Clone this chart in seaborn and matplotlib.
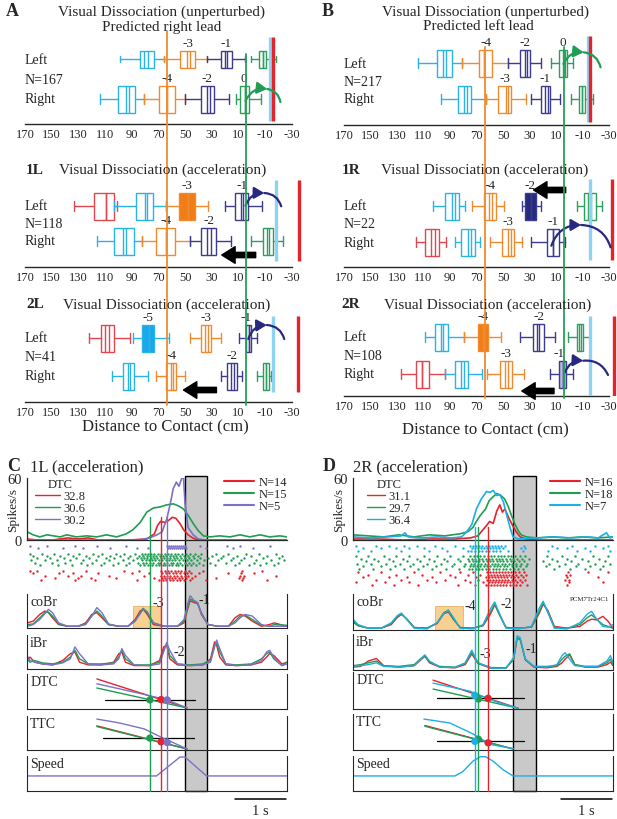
import numpy as np
import pandas as pd
import seaborn as sns
import matplotlib
matplotlib.use('Agg')
import matplotlib.pyplot as plt
import matplotlib.transforms as mtransforms
from matplotlib.lines import Line2D
from matplotlib.patches import Rectangle, FancyArrowPatch

# ---------- box panels: distance to contact (cm) of each paw placement ----------
# one box = [whisker lo, q1, median, second line, q3, whisker hi]
A_LEFT_STRIDES = [-5, -3, -1, 1]
A_LEFT_DTC = [[66, 73, 78, 80.5, 84, 99], [33.5, 42.5, 46.5, 48.5, 54, 66],
              [5.5, 15, 18.5, 20.5, 23.5, 33.5], [-18, -10.5, -8, -8, -5.5, 0.5]]
A_RIGHT_STRIDES = [-6, -4, -2, 0]
A_RIGHT_DTC = [[80.5, 87.5, 92, 94, 100.5, 113.5], [50.5, 57.5, 63.5, 63.5, 69.5, 80.5],
               [17, 28.5, 31.5, 34, 38.5, 50.5], [-6.5, 2.5, 5.5, 5.5, 9, 12]]

B_LEFT_STRIDES = [-6, -4, -2, 0]
B_LEFT_DTC = [[81, 88.5, 93, 95.5, 99.5, 114], [46, 58, 64.5, 64.5, 68, 81],
              [21.5, 30, 32, 33.5, 37.5, 46], [-3, 2, 3, 4.5, 7.5, 14]]
B_RIGHT_STRIDES = [-5, -3, -1, 1]
B_RIGHT_DTC = [[63, 74, 77, 79.5, 84, 97], [32.5, 44, 46, 48, 53.5, 63],
               [7, 14.5, 16, 18, 21.5, 28.5], [-18, -12, -9.5, -9.5, -7.5, -1]]

L1_LEFT_STRIDES = [-7, -5, -3, -1]
L1_LEFT_DTC = [[101, 103.5, 109, 109, 118, 133], [64.5, 74, 78.5, 80, 87, 103.5],
               [33, 43, 48, 48, 55, 64.5], [-7.5, 3, 7, 8.5, 12.5, 20]]
L1_RIGHT_STRIDES = [-6, -4, -2, 0]
L1_RIGHT_DTC = [[82.5, 88.5, 94, 96.5, 103, 116], [46.5, 57.5, 64.5, 64.5, 71.5, 82.5],
                [15.5, 27, 31, 33.5, 38, 46.5], [-23, -15.5, -13, -11, -8, 0.5]]

L2_LEFT_STRIDES = [-7, -5, -3, -1]
L2_LEFT_DTC = [[91.5, 103, 107, 110, 113, 122], [62, 73, 77, 77, 82.5, 89],
               [23.5, 31, 33, 35, 38, 46.5], [-3.5, 1, 2.5, 2.5, 4.5, 9.5]]
L2_RIGHT_STRIDES = [-6, -4, -2, 0]
L2_RIGHT_DTC = [[77.5, 88, 91, 93, 96.5, 105], [50, 57, 59, 61, 64.5, 72],
                [7.5, 11, 13.5, 16, 19, 23.5], [-14, -12.5, -10.5, -10.5, -8.5, -4]]

R1_LEFT_STRIDES = [-6, -4, -2, 0]
R1_LEFT_DTC = [[79, 83.5, 86, 88.5, 94, 103], [49.5, 55.5, 58, 60.5, 64, 73.5],
               [21.5, 25, 29, 29, 33.5, 35.5], [-25, -20.5, -16.5, -14.5, -11, -6]]
R1_RIGHT_STRIDES = [-7, -5, -3, -1]
R1_RIGHT_DTC = [[93, 98.5, 101.5, 104, 108.5, 115.5], [67, 71, 74, 76.5, 82, 86.5],
                [36, 41.5, 44, 46, 50.5, 60], [3, 7.5, 12, 12, 17, 28.5]]

R2_LEFT_STRIDES = [-6, -4, -2, 0]
R2_LEFT_DTC = [[79.5, 91.5, 95, 97, 101, 109], [51.5, 61, 65, 65, 69, 79.5],
               [11, 19, 22.5, 24.5, 27, 37.5], [-15.5, -10.5, -9, -7.5, -5.5, 1]]
R2_RIGHT_STRIDES = [-7, -5, -3, -1]
R2_RIGHT_DTC = [[93.5, 106, 111, 111, 116, 127], [66, 76.5, 79.5, 82, 86, 93.5],
                [34.5, 43.5, 46.5, 48.5, 52, 62], [-2.5, 2.5, 5, 5, 7.5, 14.5]]

N_TRIALS = {'A': 167, 'B': 217, '1L': 118, '2L': 41, '1R': 22, '2R': 108}
LABELED = {'A': [-3, -1, -4, -2, 0], 'B': [-4, -2, 0, -3, -1], '1L': [-3, -1, -4, -2],
           '2L': [-5, -3, -1, -4, -2], '1R': [-4, -2, -3, -1], '2R': [-4, -2, -3, -1]}
PERTURBED = {'A': None, 'B': None, '1L': -3, '2L': -5, '1R': -2, '2R': -4}
CUE_BLUE = {'A': -13.5, 'B': -14, '1L': -18, '2L': -15.7, '1R': -15.6, '2R': -15.5}
CUE_RED = {'A': -16, 'B': -15.5, '1L': -35, '2L': -34.5, '1R': -32.5, '2R': -34}
LEFT_COL_LINES = [64, 4.5]    # orange, green reference DTC
RIGHT_COL_LINES = [63.5, 3.8]
TICKS_CM = [170, 150, 130, 110, 90, 70, 50, 30, 10, -10, -30]

# ---------- C: 1L (acceleration) ----------
C_RED_T = [0, 0.2, 0.5, 0.8, 1.0, 1.2, 1.4, 2.0, 2.35, 2.5, 2.56, 2.62, 2.7, 2.78, 2.85,
           2.92, 3.0, 3.07, 3.16, 3.25, 3.35, 5.1]
C_RED_RATE = [1, 0, 0, 2, 1, 2, 0, 0, 1, 6, 14, 18, 17, 19, 22, 21, 16, 10, 5, 2, 0, 0]
C_GREEN_T = [0, 0.12, 0.25, 0.39, 0.52, 0.65, 0.78, 0.97, 1.17, 1.37, 1.56, 1.76, 1.95,
             2.08, 2.22, 2.35, 2.48, 2.61, 2.74, 2.87, 2.97, 3.07, 3.16, 3.26, 3.36, 3.46,
             3.59, 3.78, 3.98, 4.18, 4.37, 4.57, 4.76, 4.96, 5.1]
C_GREEN_RATE = [8, 5, 3, 5, 4, 3, 5, 3, 4, 3, 5, 3, 6, 10, 17, 27, 31, 32, 34, 35, 33, 30,
                24, 16, 9, 4, 3, 4, 3, 5, 3, 5, 3, 4, 3]
C_PURPLE_T = [0, 2.2, 2.4, 2.55, 2.65, 2.74, 2.81, 2.87, 2.93, 2.98, 3.03, 3.07, 3.1,
              3.16, 3.26, 3.36, 3.5, 5.1]
C_PURPLE_RATE = [0, 0, 2, 5, 8, 20, 35, 50, 56, 52, 59, 61, 35, 12, 5, 1, 0, 0]
C_DTC_LABELS = ['32.8', '30.6', '30.2']
C_N_LABELS = ['N=14', 'N=15', 'N=5']
C_GRAY = [3.1, 3.53]
C_EVENTS = [2.63, 2.41, 2.75]          # red, green, purple
C_HILITE = [2.08, 2.63]

C_RASTER_PURPLE = [
    [0.06, 0.39, 0.94, 1.37, 1.95, 2.74, 2.78, 2.82, 2.86, 2.9, 2.94, 2.98, 3.02, 3.06, 3.1, 3.39, 3.92, 4.18, 4.76],
    [0.22, 0.71, 1.1, 1.63, 2.15, 2.38, 2.76, 2.8, 2.84, 2.88, 2.92, 2.96, 3.0, 3.04, 3.08, 3.12, 3.52, 4.05, 4.44]]
C_RASTER_GREEN = [
    [0.05, 0.3, 0.52, 0.8, 1.02, 1.3, 1.48, 1.75, 1.9, 2.12, 2.25, 2.31, 2.38, 2.44, 2.5, 2.57, 2.63, 2.7, 2.76, 2.83, 2.9, 2.97, 3.04, 3.12, 3.2, 3.3, 3.42, 3.7, 3.95, 4.3, 4.55, 4.88],
    [0.12, 0.4, 0.65, 0.9, 1.15, 1.4, 1.62, 1.83, 2.02, 2.2, 2.28, 2.35, 2.41, 2.47, 2.54, 2.6, 2.67, 2.73, 2.8, 2.86, 2.93, 3.0, 3.08, 3.16, 3.25, 3.36, 3.62, 3.85, 4.12, 4.4, 4.7, 5.0],
    [0.2, 0.45, 0.72, 0.96, 1.22, 1.55, 1.7, 1.98, 2.15, 2.23, 2.3, 2.36, 2.43, 2.49, 2.55, 2.62, 2.68, 2.75, 2.81, 2.88, 2.95, 3.02, 3.1, 3.18, 3.28, 3.4, 3.55, 3.8, 4.05, 4.25, 4.62, 4.95],
    [0.08, 0.35, 0.58, 0.85, 1.1, 1.35, 1.6, 1.88, 2.08, 2.26, 2.33, 2.4, 2.46, 2.52, 2.59, 2.65, 2.72, 2.78, 2.85, 2.91, 2.99, 3.06, 3.14, 3.22, 3.33, 3.48, 3.75, 4.0, 4.2, 4.5, 4.78, 5.05],
    [0.15, 0.5, 0.75, 1.05, 1.28, 1.52, 1.78, 2.0, 2.18, 2.27, 2.34, 2.42, 2.48, 2.56, 2.61, 2.69, 2.74, 2.82, 2.87, 2.94, 3.01, 3.09, 3.17, 3.26, 3.38, 3.58, 3.9, 4.15, 4.45, 4.68, 4.92],
    [0.25, 0.6, 0.88, 1.18, 1.45, 1.68, 1.95, 2.22, 2.29, 2.37, 2.45, 2.53, 2.58, 2.66, 2.71, 2.79, 2.84, 2.92, 2.96, 3.05, 3.13, 3.21, 3.31, 3.45, 3.68, 4.08, 4.35, 4.58, 4.85]]
C_RASTER_RED = [
    [0.05, 0.2, 0.7, 1.15, 1.9, 2.2, 2.63, 2.7, 2.76, 2.83, 2.9, 2.96, 3.03, 3.1, 3.18, 3.45, 4.22, 4.6],
    [0.12, 0.62, 0.9, 1.4, 2.05, 2.4, 2.65, 2.72, 2.79, 2.86, 2.93, 3.0, 3.07, 3.14, 3.22, 3.38, 3.95, 4.2, 4.45],
    [0.35, 0.8, 1.05, 1.6, 2.3, 2.62, 2.68, 2.75, 2.81, 2.88, 2.95, 3.02, 3.09, 3.16, 3.3, 4.18, 4.25, 4.88],
    [0.55, 1.0, 1.25, 1.75, 2.5, 2.64, 2.71, 2.78, 2.84, 2.91, 2.98, 3.05, 3.12, 3.24, 3.7, 4.15, 4.24],
    [0.28, 0.95, 1.33, 2.15, 2.58, 2.66, 2.73, 2.8, 2.87, 2.94, 3.01, 3.08, 3.2, 3.52, 4.21, 4.7]]

C_COBR_T = [0, 0.12, 0.25, 0.35, 0.42, 0.5, 0.62, 0.8, 1.0, 1.15, 1.27, 1.37, 1.47, 1.6, 1.8,
            1.98, 2.12, 2.22, 2.28, 2.36, 2.48, 2.7, 2.95, 3.08, 3.15, 3.2, 3.27, 3.35, 3.42,
            3.55, 3.75, 3.95, 4.08, 4.18, 4.28, 4.42, 4.6, 4.75, 4.85, 5.1]
C_COBR_RED = [0.15, 0.2, 0.4, 0.5, 0.45, 0.3, 0.1, 0.05, 0.05, 0.15, 0.4, 0.45, 0.3, 0.1, 0.05,
              0.05, 0.25, 0.5, 0.55, 0.4, 0.1, 0.05, 0.05, 0.15, 0.55, 0.8, 0.75, 0.72, 0.4,
              0.1, 0.05, 0.05, 0.3, 0.4, 0.35, 0.2, 0.05, 0.1, 0.15, 0.05]
C_COBR_GREEN = [0.1, 0.12, 0.3, 0.45, 0.47, 0.35, 0.12, 0.05, 0.05, 0.12, 0.35, 0.5, 0.35, 0.1,
                0.05, 0.05, 0.2, 0.45, 0.58, 0.45, 0.15, 0.05, 0.05, 0.2, 0.6, 0.85, 0.8, 0.7,
                0.45, 0.1, 0.05, 0.05, 0.2, 0.35, 0.38, 0.25, 0.08, 0.05, 0.1, 0.08]
C_COBR_PURPLE = [0.05, 0.1, 0.25, 0.42, 0.55, 0.45, 0.15, 0.05, 0.05, 0.1, 0.35, 0.6, 0.45, 0.12,
                 0.05, 0.05, 0.2, 0.42, 0.55, 0.48, 0.15, 0.05, 0.05, 0.25, 0.7, 0.95, 0.82,
                 0.75, 0.42, 0.1, 0.05, 0.05, 0.15, 0.3, 0.4, 0.35, 0.1, 0.05, 0.05, 0.05]
C_IBR_T = [0, 0.06, 0.15, 0.3, 0.5, 0.7, 0.85, 0.94, 1.03, 1.2, 1.45, 1.7, 1.8, 1.86, 1.93,
           2.1, 2.4, 2.6, 2.68, 2.74, 2.8, 2.95, 3.2, 3.45, 3.6, 3.68, 3.72, 3.78, 3.9, 4.1,
           4.4, 4.6, 4.7, 4.76, 4.84, 5.0, 5.1]
C_IBR_RED = [0.25, 0.35, 0.2, 0.15, 0.12, 0.25, 0.45, 0.5, 0.2, 0.12, 0.12, 0.2, 0.45, 0.5, 0.2,
             0.1, 0.1, 0.25, 0.65, 0.7, 0.3, 0.12, 0.1, 0.12, 0.3, 0.8, 0.7, 0.35, 0.12, 0.1,
             0.12, 0.2, 0.35, 0.45, 0.4, 0.15, 0.2]
C_IBR_GREEN = [0.3, 0.2, 0.25, 0.18, 0.15, 0.2, 0.35, 0.55, 0.3, 0.15, 0.15, 0.18, 0.35, 0.55,
               0.3, 0.12, 0.12, 0.2, 0.55, 0.75, 0.4, 0.15, 0.12, 0.15, 0.25, 0.7, 0.75, 0.5,
               0.15, 0.12, 0.15, 0.3, 0.45, 0.5, 0.3, 0.1, 0.2]
C_IBR_PURPLE = [0.4, 0.25, 0.2, 0.15, 0.12, 0.18, 0.3, 0.65, 0.45, 0.15, 0.12, 0.15, 0.3, 0.6,
                0.4, 0.12, 0.1, 0.15, 0.5, 0.78, 0.55, 0.15, 0.1, 0.12, 0.2, 0.65, 0.85, 0.6,
                0.15, 0.1, 0.12, 0.25, 0.5, 0.55, 0.35, 0.1, 0.15]
C_DTC_T = [1.37, 3.14]
C_DTC_RED = [0.86, 0.03]
C_DTC_GREEN = [0.6, 0.03]
C_DTC_PURPLE_T = [1.37, 2.2, 2.75, 3.14]
C_DTC_PURPLE = [0.72, 0.45, 0.26, 0.03]
C_DTC_REF = [[1.53, 3.3], 0.26]
C_DTC_DOTS = [0.27, 0.26, 0.26]
C_TTC_T = [1.37, 3.14]
C_TTC_RED = [0.71, 0.03]
C_TTC_GREEN = [0.69, 0.03]
C_TTC_PURPLE_T = [1.37, 1.8, 2.3, 2.6, 3.14]
C_TTC_PURPLE = [0.91, 0.8, 0.62, 0.4, 0.03]
C_TTC_REF = [[1.5, 3.27], 0.35]
C_TTC_DOTS = [0.24, 0.35, 0.22]
C_SPEED_T = [0, 2.54, 3.0, 3.1, 3.52, 5.1]
C_SPEED = [0.43, 0.43, 0.97, 0.97, 0.43, 0.43]

# ---------- D: 2R (acceleration) ----------
D_RED_T = [0, 0.5, 1.0, 1.5, 2.0, 2.3, 2.45, 2.55, 2.62, 2.68, 2.75, 2.82, 2.88, 2.93, 2.98,
           3.05, 3.12, 3.2, 3.28, 3.38, 3.6, 5.1]
D_RED_RATE = [1, 1, 0, 1, 1, 2, 4, 10, 14, 18, 16, 28, 34, 27, 30, 22, 15, 8, 3, 1, 0, 0]
D_GREEN_T = [0, 0.3, 0.6, 0.9, 1.2, 1.5, 1.8, 2.1, 2.25, 2.35, 2.42, 2.5, 2.6, 2.67, 2.75,
             2.82, 2.9, 2.97, 3.04, 3.1, 3.17, 3.24, 3.3, 3.4, 3.6, 3.9, 4.2, 4.5, 4.8, 5.1]
D_GREEN_RATE = [5, 4, 3, 5, 3, 5, 4, 6, 8, 12, 18, 24, 30, 38, 42, 45, 43, 40, 33, 25, 16, 9,
                5, 3, 2, 3, 2, 3, 2, 3]
D_CYAN_T = [0, 0.36, 0.69, 0.95, 1.02, 1.08, 1.35, 1.67, 1.93, 2.13, 2.23, 2.33, 2.42, 2.52,
            2.62, 2.69, 2.75, 2.82, 2.88, 2.95, 3.01, 3.08, 3.14, 3.24, 3.63, 3.96, 4.29,
            4.61, 4.81, 4.97, 5.04, 5.1]
D_CYAN_RATE = [3, 2, 3, 4, 7, 3, 2, 3, 2, 3, 8, 15, 30, 40, 47, 46, 48, 43, 44, 37, 25, 12, 3,
               1, 2, 3, 2, 3, 2, 7, 2, 3]
D_DTC_LABELS = ['31.1', '29.7', '36.4']
D_N_LABELS = ['N=16', 'N=18', 'N=7']
D_GRAY = [3.14, 3.59]
D_EVENTS = [2.65, 2.46, 2.39]          # red, green, cyan
D_HILITE = [1.61, 2.16]

D_RASTER_CYAN = [
    [0.05, 0.45, 0.7, 1.0, 1.25, 1.6, 2.0, 2.3, 2.36, 2.42, 2.48, 2.54, 2.6, 2.66, 2.72, 2.78, 2.84, 2.9, 2.98, 3.35, 3.9, 4.3, 4.75, 5.0],
    [0.2, 0.55, 0.85, 1.1, 1.4, 1.75, 2.15, 2.33, 2.39, 2.45, 2.51, 2.57, 2.63, 2.69, 2.75, 2.81, 2.87, 2.94, 3.3, 3.38, 4.0, 4.2, 4.55, 4.9],
    [0.1, 0.35, 0.95, 1.5, 1.85, 2.25, 2.32, 2.4, 2.47, 2.53, 2.6, 2.67, 2.74, 2.8, 2.88, 3.05, 3.33, 3.82, 4.4, 4.65, 5.05]]
D_RASTER_GREEN = [
    [0.05, 0.3, 0.6, 0.85, 1.1, 1.4, 1.65, 1.9, 2.15, 2.3, 2.37, 2.44, 2.5, 2.57, 2.64, 2.7, 2.77, 2.84, 2.9, 2.97, 3.04, 3.1, 3.18, 3.27, 3.38, 3.8, 4.1, 4.35, 4.7, 5.0],
    [0.15, 0.42, 0.7, 0.98, 1.25, 1.5, 1.78, 2.05, 2.26, 2.33, 2.4, 2.47, 2.53, 2.6, 2.67, 2.73, 2.8, 2.87, 2.93, 3.0, 3.07, 3.14, 3.22, 3.32, 3.45, 3.9, 4.2, 4.5, 4.82],
    [0.25, 0.5, 0.78, 1.05, 1.32, 1.58, 1.85, 2.1, 2.28, 2.35, 2.42, 2.48, 2.55, 2.62, 2.68, 2.75, 2.82, 2.88, 2.95, 3.02, 3.09, 3.16, 3.25, 3.36, 3.72, 4.0, 4.28, 4.6, 4.95],
    [0.08, 0.36, 0.65, 0.92, 1.18, 1.45, 1.72, 1.98, 2.2, 2.31, 2.38, 2.45, 2.52, 2.58, 2.65, 2.72, 2.78, 2.85, 2.92, 2.99, 3.06, 3.12, 3.2, 3.3, 3.42, 3.85, 4.15, 4.42, 4.75, 5.05],
    [0.2, 0.55, 0.82, 1.12, 1.38, 1.62, 1.95, 2.18, 2.29, 2.36, 2.43, 2.49, 2.56, 2.63, 2.69, 2.76, 2.83, 2.89, 2.96, 3.03, 3.11, 3.19, 3.28, 3.4, 3.78, 4.05, 4.38, 4.65, 4.9],
    [0.12, 0.4, 0.72, 1.0, 1.28, 1.55, 1.82, 2.08, 2.27, 2.34, 2.41, 2.47, 2.54, 2.61, 2.67, 2.74, 2.8, 2.87, 2.94, 3.01, 3.08, 3.15, 3.23, 3.34, 3.95, 4.25, 4.55, 4.85]]
D_RASTER_RED = [
    [0.1, 0.55, 1.2, 1.7, 2.1, 2.35, 2.62, 2.68, 2.74, 2.8, 2.86, 2.92, 2.98, 3.04, 3.1, 3.17, 3.25, 3.35, 4.22, 4.6, 5.0],
    [0.3, 0.85, 1.35, 1.9, 2.25, 2.5, 2.64, 2.7, 2.76, 2.82, 2.88, 2.94, 3.0, 3.06, 3.12, 3.2, 3.3, 3.4, 4.18, 4.26],
    [0.2, 0.7, 1.05, 1.55, 2.0, 2.42, 2.61, 2.67, 2.73, 2.79, 2.85, 2.91, 2.97, 3.03, 3.09, 3.15, 3.23, 3.33, 4.2, 4.8],
    [0.45, 0.95, 1.45, 1.8, 2.2, 2.45, 2.63, 2.69, 2.75, 2.81, 2.87, 2.93, 2.99, 3.05, 3.11, 3.18, 3.28, 3.38, 4.15, 4.23],
    [0.05, 0.62, 1.1, 1.62, 2.3, 2.55, 2.66, 2.72, 2.78, 2.84, 2.9, 2.96, 3.02, 3.08, 3.14, 3.22, 3.32, 4.24, 4.9],
    [0.38, 0.8, 1.28, 2.05, 2.4, 2.6, 2.65, 2.71, 2.77, 2.83, 2.89, 2.95, 3.01, 3.07, 3.13, 3.19, 3.27, 3.42, 4.19]]

D_COBR_T = [0, 0.1, 0.3, 0.55, 0.75, 0.87, 0.95, 1.05, 1.2, 1.45, 1.65, 1.78, 1.87, 1.97, 2.1,
            2.35, 2.55, 2.7, 2.78, 2.86, 3.0, 3.25, 3.5, 3.65, 3.73, 3.82, 3.95, 4.2, 4.45,
            4.6, 4.68, 4.78, 4.9, 5.0, 5.1]
D_COBR_RED = [0.22, 0.12, 0.05, 0.05, 0.15, 0.35, 0.43, 0.32, 0.07, 0.05, 0.18, 0.45, 0.5, 0.3,
              0.07, 0.05, 0.12, 0.45, 0.7, 0.48, 0.07, 0.05, 0.08, 0.45, 0.72, 0.55, 0.1, 0.05,
              0.1, 0.25, 0.3, 0.28, 0.38, 0.25, 0.05]
D_COBR_GREEN = [0.25, 0.12, 0.05, 0.05, 0.18, 0.38, 0.45, 0.3, 0.07, 0.05, 0.2, 0.48, 0.55, 0.3,
                0.07, 0.05, 0.12, 0.5, 0.72, 0.45, 0.07, 0.05, 0.08, 0.5, 0.75, 0.5, 0.07,
                0.05, 0.15, 0.35, 0.42, 0.3, 0.15, 0.1, 0.05]
D_COBR_CYAN = [0.3, 0.15, 0.05, 0.05, 0.2, 0.4, 0.47, 0.3, 0.05, 0.03, 0.2, 0.45, 0.55, 0.35,
               0.05, 0.03, 0.15, 0.6, 0.78, 0.5, 0.05, 0.03, 0.1, 0.6, 0.8, 0.5, 0.05, 0.03,
               0.2, 0.45, 0.52, 0.3, 0.1, 0.08, 0.15]
D_IBR_T = [0, 0.15, 0.3, 0.46, 0.6, 0.9, 1.2, 1.33, 1.41, 1.5, 1.7, 2.0, 2.2, 2.33, 2.45, 2.7,
           3.0, 3.15, 3.22, 3.28, 3.38, 3.55, 3.8, 4.0, 4.1, 4.16, 4.25, 4.35, 4.55, 4.8, 4.98,
           5.05, 5.1]
D_IBR_RED = [0.08, 0.1, 0.25, 0.32, 0.12, 0.08, 0.12, 0.28, 0.38, 0.2, 0.08, 0.06, 0.15, 0.45,
             0.18, 0.05, 0.05, 0.3, 0.88, 0.85, 0.28, 0.08, 0.06, 0.1, 0.2, 0.3, 0.42, 0.15,
             0.08, 0.08, 0.15, 0.22, 0.12]
D_IBR_GREEN = [0.12, 0.15, 0.2, 0.25, 0.12, 0.1, 0.15, 0.32, 0.4, 0.22, 0.1, 0.08, 0.18, 0.5,
               0.2, 0.07, 0.06, 0.3, 0.9, 0.85, 0.3, 0.1, 0.1, 0.12, 0.3, 0.38, 0.45, 0.15, 0.1,
               0.1, 0.2, 0.3, 0.15]
D_IBR_CYAN = [0.1, 0.12, 0.15, 0.2, 0.1, 0.08, 0.12, 0.3, 0.42, 0.25, 0.08, 0.07, 0.2, 0.55,
              0.2, 0.05, 0.05, 0.35, 0.95, 0.9, 0.3, 0.1, 0.08, 0.15, 0.4, 0.48, 0.3, 0.12, 0.1,
              0.1, 0.25, 0.4, 0.2]
D_DTC_T = [1.57, 3.24]
D_DTC_RED = [0.78, 0.02]
D_DTC_GREEN = [0.54, 0.02]
D_DTC_CYAN_T = [1.57, 2.3, 2.8, 3.24]
D_DTC_CYAN = [0.7, 0.48, 0.2, 0.02]
D_DTC_REF = [[1.65, 3.35], 0.3]
D_DTC_DOTS = [0.29, 0.27, 0.37]
D_TTC_T = [1.41, 3.14]
D_TTC_RED = [0.68, 0.03]
D_TTC_GREEN = [0.66, 0.03]
D_TTC_CYAN_T = [1.39, 1.9, 2.35, 2.7, 3.14]
D_TTC_CYAN = [0.86, 0.75, 0.45, 0.15, 0.04]
D_TTC_REF = [[1.65, 3.35], 0.25]
D_TTC_DOTS = [0.2, 0.3, 0.24]
D_SPEED_T = [0, 2.0, 2.15, 2.35, 2.5, 2.6, 2.75, 2.95, 3.14, 5.1]
D_SPEED = [0.43, 0.43, 0.55, 0.85, 0.98, 0.98, 0.85, 0.6, 0.43, 0.43]

TMAX = 5.1

# ---------- styling ----------
sns.set_style('white')
plt.rcParams['font.family'] = ['Liberation Serif', 'DejaVu Serif']
plt.rcParams['axes.linewidth'] = 0.9

STRIDE_COLOR = {-8: '#e2474f', -7: '#e2474f', -6: '#2ab3e6', -5: '#2ab3e6',
                -4: '#f08a2e', -3: '#f08a2e', -2: '#3d3b8f', -1: '#3d3b8f',
                0: '#2d9e5c', 1: '#2d9e5c'}
FILL_COLOR = {-5: '#18a9ea', -4: '#f07d18', -3: '#f07d18', -2: '#262a7c'}
RED, GREEN, PURPLE, CYAN = '#e5232c', '#1f9d52', '#7b72c8', '#1eaee6'
NAVY, LBLUE, ORANGE = '#27297e', '#8ed3f2', '#f08a2e'

W, H = 617, 820
fig = plt.figure(figsize=(W / 100, H / 100), dpi=100)


def px_axes(x0, y0, x1, y1):
    return fig.add_axes([x0 / W, 1 - y1 / H, (x1 - x0) / W, (y1 - y0) / H])


def ftext(x, y, s, **kw):
    fig.text(x / W, 1 - y / H, s, **kw)


# column geometry: axes x0, x1, pixel of 170 cm, pixel of -30 cm
COLS = {'L': (18, 302, 25, 292), 'R': (336, 617, 344, 609)}
# panel geometry: top, baseline, Left row, Right row, Left box height (px)
LAYOUT = {'A': ('L', 33, 125, 60, 100, 17), 'B': ('R', 33, 126, 64, 100, 27),
          '1L': ('L', 180, 268, 207, 242, 27), '1R': ('R', 180, 268, 207, 243, 27),
          '2L': ('L', 313, 403, 339, 377, 27), '2R': ('R', 313, 397, 338, 375, 27)}
CURVES = {'A': [(4.8, 101.7), (-11.4, 90), (-21.3, 103)], 'B': [(4.4, 65), (-10.9, 53.3), (-23.6, 68.3)],
          '1L': [(4.8, 206.7), (-9.2, 194), (-21.9, 207.3)], '1R': [(13.5, 246.7), (-8.9, 226), (-31.2, 248.3)],
          '2L': [(2.7, 340), (-11.1, 326), (-24.2, 340)], '2R': [(3.25, 373.3), (-10.5, 361.7), (-29.25, 376)]}
PUSH = {'1L': (-2.8, 22.6, 256), '1R': (2.7, 26.9, 191), '2L': (26.6, 51.3, 391), '2R': (11.5, 35.8, 392)}
CUE_SPAN = {'A': (38, 122), 'B': (37, 123), '1L': (181, 262), '1R': (180, 261),
            '2L': (317, 393), '2R': (317, 397)}
LABEL_SHIFT = {('2R', -1): 2.5, ('2L', -1): 1.5}
BOX_DATA = {'A': (A_LEFT_STRIDES, A_LEFT_DTC, A_RIGHT_STRIDES, A_RIGHT_DTC),
            'B': (B_LEFT_STRIDES, B_LEFT_DTC, B_RIGHT_STRIDES, B_RIGHT_DTC),
            '1L': (L1_LEFT_STRIDES, L1_LEFT_DTC, L1_RIGHT_STRIDES, L1_RIGHT_DTC),
            '2L': (L2_LEFT_STRIDES, L2_LEFT_DTC, L2_RIGHT_STRIDES, L2_RIGHT_DTC),
            '1R': (R1_LEFT_STRIDES, R1_LEFT_DTC, R1_RIGHT_STRIDES, R1_RIGHT_DTC),
            '2R': (R2_LEFT_STRIDES, R2_LEFT_DTC, R2_RIGHT_STRIDES, R2_RIGHT_DTC)}

box_axes = {}
for key, (col, top, base, yl, yr, hl) in LAYOUT.items():
    x0, x1, p170, p30 = COLS[col]
    ax = px_axes(x0, top, x1, base)
    ax.set_facecolor('none')
    sc = (p30 - p170) / 200
    ax.set_xlim(170 + (p170 - x0) / sc, -30 - (x1 - p30) / sc)
    sp = yr - yl
    yd = lambda q, yr=yr, sp=sp: (yr - q) / sp
    ax.set_ylim(yd(base), yd(top))
    ls, ld, rs, rd = BOX_DATA[key]
    for row, strides, dtc, hpx in [(1, ls, ld, hl), (0, rs, rd, 27)]:
        w = hpx / sp
        for s, q in zip(strides, dtc):
            c = STRIDE_COLOR[s]
            face = FILL_COLOR[s] if s == PERTURBED[key] else 'none'
            if key == '2R' and row == 0 and s == -1:
                face = '#b9bddb'
            st = dict(whislo=q[0], q1=q[1], med=q[2], mean=q[3], q3=q[4], whishi=q[5], fliers=[])
            ax.bxp([st], positions=[row], widths=[w], capwidths=[w * 0.4],
                   orientation='horizontal', patch_artist=True, showfliers=False,
                   showmeans=True, meanline=True, manage_ticks=False,
                   boxprops=dict(facecolor=face, edgecolor=c, lw=1),
                   whiskerprops=dict(color=c, lw=1), capprops=dict(color=c, lw=1),
                   medianprops=dict(color=c, lw=1), meanprops=dict(color=c, lw=1, ls='-'))
            if s in LABELED[key]:
                xl = (q[1] + q[4]) / 2 + LABEL_SHIFT.get((key, s), 0)
                ax.text(xl, row + w / 2 + 0.03, str(s), ha='center', va='bottom', fontsize=9.5)
    ax.text(170, 1, 'Left', ha='left', va='center', fontsize=10)
    ax.text(170, 0.5, f'N={N_TRIALS[key]}', ha='left', va='center', fontsize=10)
    ax.text(170, 0, 'Right', ha='left', va='center', fontsize=10)
    # cue lines
    ct, cb = CUE_SPAN[key]
    ax.vlines(CUE_BLUE[key], yd(cb), yd(ct), color=LBLUE, lw=2.4, zorder=4)
    ax.vlines(CUE_RED[key], yd(cb), yd(ct), color=RED, lw=2.4, zorder=5)
    # curved stride arrow
    (sx, sy), (mx, my), (ex, ey) = CURVES[key]
    cc = GREEN if key in ('A', 'B') else NAVY
    ax.add_patch(FancyArrowPatch((sx, yd(sy)), (mx, yd(my)), connectionstyle='arc3,rad=-0.35',
                                 arrowstyle='-|>,head_length=0.6,head_width=0.35', mutation_scale=10,
                                 color=cc, lw=1.6, shrinkA=0, shrinkB=0, zorder=6))
    ax.add_patch(FancyArrowPatch((mx, yd(my)), (ex, yd(ey)), connectionstyle='arc3,rad=-0.35',
                                 arrowstyle='-', color=cc, lw=1.6, shrinkA=0, shrinkB=0, zorder=6))
    if key in PUSH:
        tx, hx, py = PUSH[key]
        ax.annotate('', xy=(hx, yd(py)), xytext=(tx, yd(py)),
                    arrowprops=dict(arrowstyle='simple,head_length=0.8,head_width=1.0,tail_width=0.32',
                                    color='black', mutation_scale=12, shrinkA=0, shrinkB=0))
    for s in ['left', 'right', 'top']:
        ax.spines[s].set_visible(False)
    ax.spines['bottom'].set_bounds(-30, 170)
    ax.spines['bottom'].set_linewidth(1)
    ax.set_xticks(TICKS_CM)
    ax.set_xticklabels([str(t) for t in TICKS_CM])
    ax.tick_params(axis='x', direction='in', length=6, width=1, labelsize=9, pad=3)
    ax.set_yticks([])
    box_axes[key] = ax

# reference DTC lines across each column
for axk, xs, y0, y1 in [('A', LEFT_COL_LINES, 32, 406), ('B', RIGHT_COL_LINES, 48, 399)]:
    tr = mtransforms.blended_transform_factory(box_axes[axk].transData, fig.transFigure)
    for x, c, ys in zip(xs, [ORANGE, '#23a058'], [y0, y0 if axk == 'B' else 55]):
        fig.add_artist(Line2D([x, x], [1 - ys / H, 1 - y1 / H], transform=tr, color=c, lw=1.3, zorder=3))

# titles of the box panels
ftext(6, 12, 'A', fontsize=13, fontweight='bold', va='center')
ftext(161, 12, 'Visual Dissociation (unperturbed)', fontsize=11, ha='center', va='center')
ftext(162, 27, 'Predicted right lead', fontsize=11, ha='center', va='center')
ftext(322, 12, 'B', fontsize=13, fontweight='bold', va='center')
ftext(485, 12, 'Visual Dissociation (unperturbed)', fontsize=11, ha='center', va='center')
ftext(478, 27, 'Predicted left lead', fontsize=11, ha='center', va='center')
for lab, x, xt, y in [('1L', 26, 59, 170), ('1R', 342, 381, 170), ('2L', 26, 63, 305), ('2R', 341, 384, 305)]:
    ftext(x, y, lab, fontsize=11, fontweight='bold', va='center')
    ftext(xt, y, 'Visual Dissociation (acceleration)', fontsize=11, va='center')
ftext(165, 427, 'Distance to Contact (cm)', fontsize=12, ha='center', va='center')
ftext(485, 430, 'Distance to Contact (cm)', fontsize=12, ha='center', va='center')


# ---------- C and D: neural activity ----------
def sub_axes(x0, x1, y0, y1, label):
    ax = px_axes(x0, y0, x1, y1)
    ax.set_facecolor('none')
    ax.spines['top'].set_visible(False)
    for s in ['left', 'right', 'bottom']:
        ax.spines[s].set_linewidth(0.8)
    ax.text(0.012, 0.97, label, transform=ax.transAxes, va='top', ha='left', fontsize=10)
    return ax


def finish(ax):
    ax.set_xlim(0, TMAX)
    ax.set_ylim(0, 1)
    ax.set_xticks([])
    ax.set_yticks([])
    ax.set_xlabel('')
    ax.set_ylabel('')


def raster(ax, rows, color, y0, dy):
    frame = pd.DataFrame([(t, y0 + i * dy) for i, r in enumerate(rows) for t in r], columns=['t', 'y'])
    sns.scatterplot(data=frame, x='t', y='y', color=color, s=3, linewidth=0, ax=ax, legend=False)


def trace_block(P):
    x0, x1 = P['x']
    cols = P['colors']
    ax_r = px_axes(x0, 479, x1, 541)
    ax_r.set_facecolor('none')
    for (t, v), c in zip(P['rate'], cols):
        sns.lineplot(x=t, y=v, color=c, lw=1.2, estimator=None, ax=ax_r, legend=False)
    ax_r.set_xlim(0, TMAX)
    ax_r.set_ylim(0, 60)
    ax_r.set_yticks([0, 60])
    ax_r.set_yticklabels(['0', '60'])
    ax_r.set_xticks([])
    ax_r.tick_params(axis='y', direction='out', length=3, labelsize=10.5, pad=1)
    ax_r.spines['top'].set_visible(False)
    ax_r.spines['right'].set_visible(False)
    ax_r.set_ylabel('Spikes/s', fontsize=9.5)
    ax_r.yaxis.set_label_coords(-8 / 260, 0.5)
    ax_r.set_xlabel('')
    hs = [Line2D([], [], color=c, lw=1) for c in cols]
    l1 = ax_r.legend(hs, P['dtc_labels'], title='DTC', loc='upper left', bbox_to_anchor=P['leg1'],
                     frameon=False, fontsize=9, title_fontsize=9, handlelength=P['hl1'],
                     handletextpad=0.3, labelspacing=0.0, borderpad=0, borderaxespad=0)
    ax_r.add_artist(l1)
    hs2 = [Line2D([], [], color=c, lw=1.5) for c in cols]
    ax_r.legend(hs2, P['n_labels'], loc='upper right', bbox_to_anchor=(1.0, 1.03), frameon=False,
                fontsize=9, handlelength=2.4, handletextpad=0.4, labelspacing=0.0, borderpad=0,
                borderaxespad=0)

    ax_s = px_axes(x0, 543, x1, 590)
    ax_s.set_facecolor('none')
    for rows, c, y0r, dy in P['rasters']:
        raster(ax_s, rows, c, y0r, dy)
    ax_s.set_xlim(0, TMAX)
    ax_s.set_ylim(47, 0)
    ax_s.axis('off')

    cb0, cb1 = P['cobr_y']
    ax_c = sub_axes(x0, x1, cb0, cb1, 'coBr')
    ax_c.add_patch(Rectangle((P['hilite'][0], 0), P['hilite'][1] - P['hilite'][0], 0.66,
                             facecolor='#f5c97f', edgecolor='#e5a85a', lw=0.6, alpha=0.85, zorder=0.5))
    for v, c in zip(P['cobr'], cols):
        sns.lineplot(x=P['cobr_t'], y=v, color=c, lw=1, estimator=None, ax=ax_c, legend=False)
    finish(ax_c)
    ib0, ib1 = P['ibr_y']
    ax_i = sub_axes(x0, x1, ib0, ib1, 'iBr')
    for v, c in zip(P['ibr'], cols):
        sns.lineplot(x=P['ibr_t'], y=v, color=c, lw=1, estimator=None, ax=ax_i, legend=False)
    finish(ax_i)

    for ylims, name, lines, ref, dots in [(P['dtc_y'], 'DTC', P['dtc'], P['dtc_ref'], P['dtc_dots']),
                                          (P['ttc_y'], 'TTC', P['ttc'], P['ttc_ref'], P['ttc_dots'])]:
        a = sub_axes(x0, x1, ylims[0], ylims[1], name)
        sns.lineplot(x=ref[0], y=[ref[1], ref[1]], color='black', lw=0.9, estimator=None, ax=a, legend=False)
        for (t, v), c in zip(lines, cols):
            sns.lineplot(x=t, y=v, color=c, lw=1, estimator=None, ax=a, legend=False)
        sns.scatterplot(x=P['events'], y=dots, hue=[0, 1, 2], palette=cols, s=28, linewidth=0,
                        ax=a, legend=False, zorder=6)
        finish(a)
    ax_v = sub_axes(x0, x1, 757, 792, 'Speed')
    sns.lineplot(x=P['speed'][0], y=P['speed'][1], color=P['speed_color'], lw=1, estimator=None,
                 ax=ax_v, legend=False)
    finish(ax_v)

    tr = mtransforms.blended_transform_factory(ax_r.transData, fig.transFigure)
    g0, g1 = P['gray']
    fig.add_artist(Rectangle((g0, 1 - 792 / H), g1 - g0, (792 - 477) / H, transform=tr,
                             facecolor='#c9c9c9', edgecolor='black', lw=1, zorder=-1))
    for t, c in zip(P['events'], cols):
        fig.add_artist(Line2D([t, t], [1 - P['ev_top'] / H, 1 - 792 / H], transform=tr,
                              color=c, lw=1, zorder=3))
    # 1 s scale bar
    fig.add_artist(Line2D([TMAX - 1.02, TMAX - 0.02], [1 - 800 / H, 1 - 800 / H], transform=tr,
                          color='black', lw=1.1))
    fig.text(TMAX - 0.52, 1 - 812 / H, '1 s', transform=tr, ha='center', va='center', fontsize=10.5)
    for txt, (t, v, a) in P['labels']:
        {'c': ax_c, 'i': ax_i}[a].text(t, v, txt, ha='left', va='center', fontsize=10, zorder=7)
    return ax_c


C_PANEL = dict(
    x=(27, 287), colors=[RED, GREEN, PURPLE],
    rate=[(C_RED_T, C_RED_RATE), (C_GREEN_T, C_GREEN_RATE), (C_PURPLE_T, C_PURPLE_RATE)],
    dtc_labels=C_DTC_LABELS, n_labels=C_N_LABELS, leg1=(0.03, 1.0), hl1=2.0,
    rasters=[(C_RASTER_PURPLE, PURPLE, 4, 1.6), (C_RASTER_GREEN, GREEN, 11.5, 2.3),
             (C_RASTER_RED, RED, 29, 2.3)],
    cobr_y=(595, 629), ibr_y=(636, 670), dtc_y=(675, 710), ttc_y=(717, 751),
    hilite=C_HILITE, cobr_t=C_COBR_T, cobr=[C_COBR_RED, C_COBR_GREEN, C_COBR_PURPLE],
    ibr_t=C_IBR_T, ibr=[C_IBR_RED, C_IBR_GREEN, C_IBR_PURPLE],
    dtc=[(C_DTC_T, C_DTC_RED), (C_DTC_T, C_DTC_GREEN), (C_DTC_PURPLE_T, C_DTC_PURPLE)],
    dtc_ref=C_DTC_REF, dtc_dots=C_DTC_DOTS,
    ttc=[(C_TTC_T, C_TTC_RED), (C_TTC_T, C_TTC_GREEN), (C_TTC_PURPLE_T, C_TTC_PURPLE)],
    ttc_ref=C_TTC_REF, ttc_dots=C_TTC_DOTS,
    speed=(C_SPEED_T, C_SPEED), speed_color=PURPLE, gray=C_GRAY, events=C_EVENTS, ev_top=518,
    labels=[('-3', (2.47, 0.76, 'c')), ('-1', (3.36, 0.85, 'c')), ('-2', (2.88, 0.5, 'i'))])

D_PANEL = dict(
    x=(353, 613), colors=[RED, GREEN, CYAN],
    rate=[(D_RED_T, D_RED_RATE), (D_GREEN_T, D_GREEN_RATE), (D_CYAN_T, D_CYAN_RATE)],
    dtc_labels=D_DTC_LABELS, n_labels=D_N_LABELS, leg1=(0.054, 1.0), hl1=1.4,
    rasters=[(D_RASTER_CYAN, CYAN, 4, 2.3), (D_RASTER_GREEN, GREEN, 14, 2.5),
             (D_RASTER_RED, RED, 30, 2.6)],
    cobr_y=(595, 631), ibr_y=(635, 671), dtc_y=(673, 710), ttc_y=(715, 751),
    hilite=D_HILITE, cobr_t=D_COBR_T, cobr=[D_COBR_RED, D_COBR_GREEN, D_COBR_CYAN],
    ibr_t=D_IBR_T, ibr=[D_IBR_RED, D_IBR_GREEN, D_IBR_CYAN],
    dtc=[(D_DTC_T, D_DTC_RED), (D_DTC_T, D_DTC_GREEN), (D_DTC_CYAN_T, D_DTC_CYAN)],
    dtc_ref=D_DTC_REF, dtc_dots=D_DTC_DOTS,
    ttc=[(D_TTC_T, D_TTC_RED), (D_TTC_T, D_TTC_GREEN), (D_TTC_CYAN_T, D_TTC_CYAN)],
    ttc_ref=D_TTC_REF, ttc_dots=D_TTC_DOTS,
    speed=(D_SPEED_T, D_SPEED), speed_color=CYAN, gray=D_GRAY, events=D_EVENTS, ev_top=528,
    labels=[('-4', (2.18, 0.69, 'c')), ('-2', (2.9, 0.75, 'c')), ('-3', (2.48, 0.45, 'i')),
            ('-1', (3.38, 0.6, 'i'))])

trace_block(C_PANEL)
ax_dc = trace_block(D_PANEL)
ax_dc.text(0.985, 0.95, 'PCM7Tr24C1', transform=ax_dc.transAxes, ha='right', va='top', fontsize=5)

ftext(7, 467, 'C', fontsize=13, fontweight='bold', va='center')
ftext(30, 467, '1L (acceleration)', fontsize=12, va='center')
ftext(323, 467, 'D', fontsize=13, fontweight='bold', va='center')
ftext(353, 467, '2R (acceleration)', fontsize=12, va='center')

fig.savefig('out.png', dpi=100)
